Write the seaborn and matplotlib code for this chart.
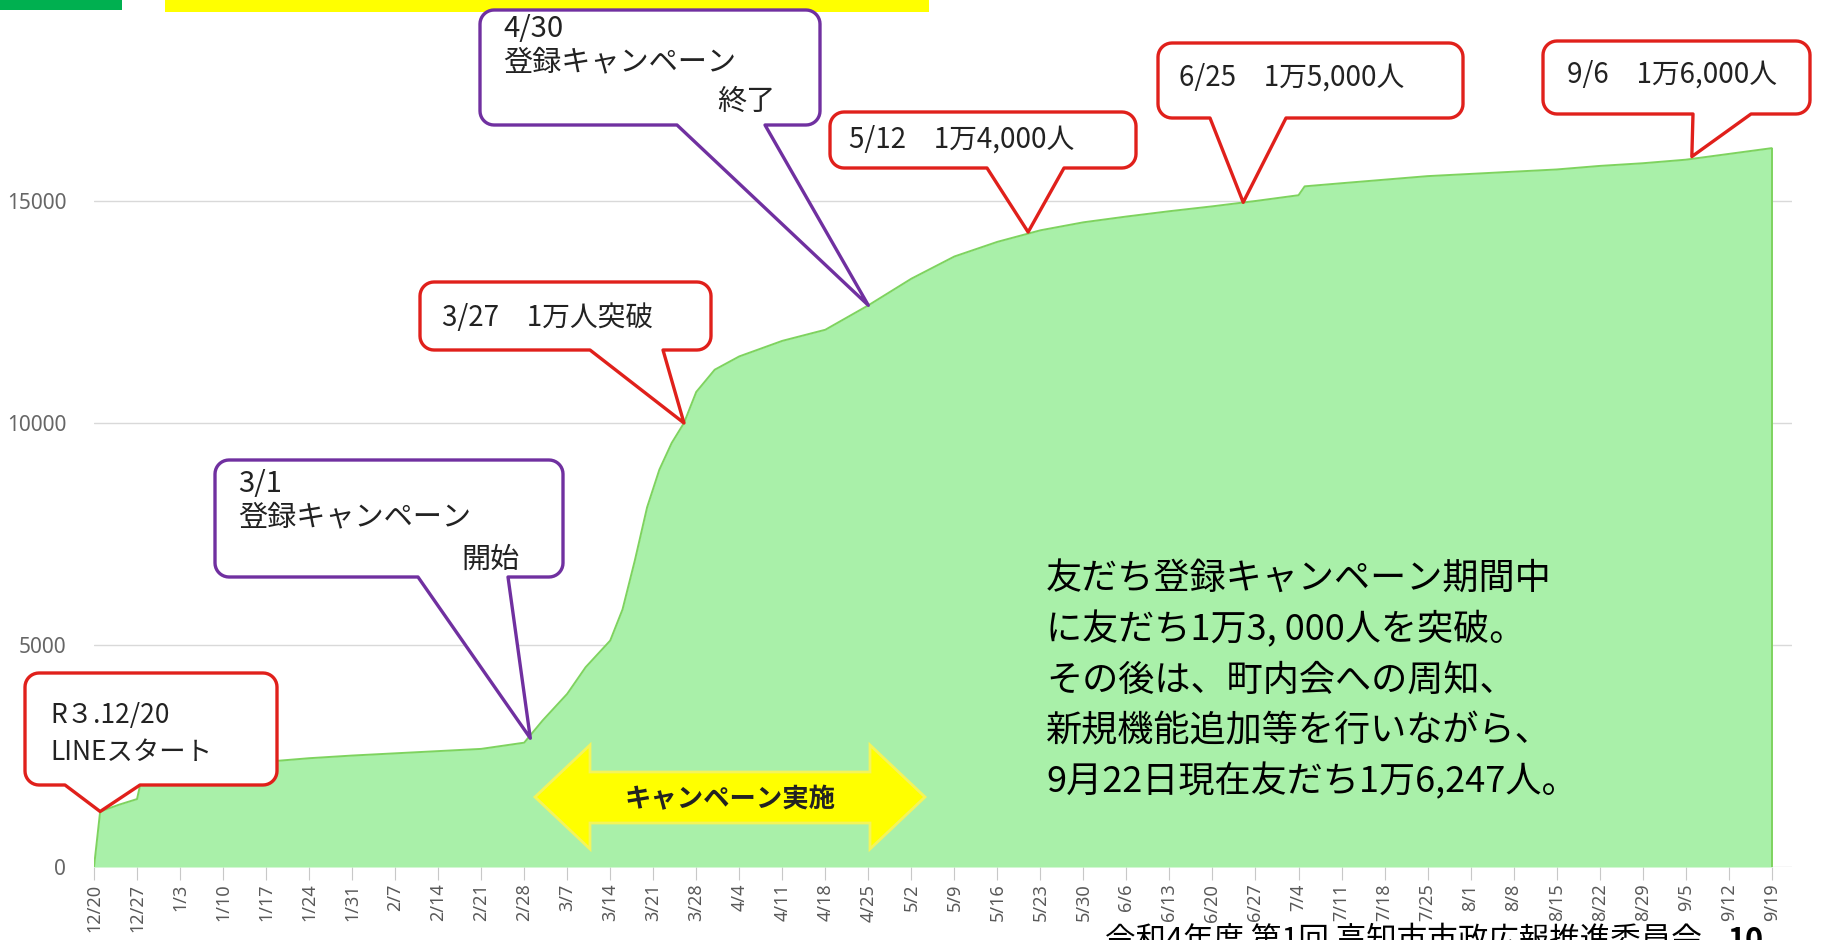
import numpy as np
import pandas as pd
import matplotlib
matplotlib.use("Agg")
import matplotlib.pyplot as plt
import matplotlib.dates as mdates
import seaborn as sns
from matplotlib.patches import Polygon, Rectangle

# === data ===
dates = [
    "2021-12-20", "2021-12-21", "2021-12-24", "2021-12-27", "2021-12-28",
    "2022-01-03", "2022-01-10", "2022-01-17", "2022-01-24", "2022-01-31",
    "2022-02-07", "2022-02-14", "2022-02-21", "2022-02-28", "2022-03-03",
    "2022-03-07", "2022-03-10", "2022-03-14", "2022-03-16", "2022-03-18",
    "2022-03-20", "2022-03-22", "2022-03-24", "2022-03-26", "2022-03-28",
    "2022-03-31", "2022-04-04", "2022-04-11", "2022-04-18", "2022-04-25",
    "2022-05-02", "2022-05-09", "2022-05-16", "2022-05-23", "2022-05-30",
    "2022-06-06", "2022-06-13", "2022-06-20", "2022-06-27", "2022-07-04",
    "2022-07-05", "2022-07-11", "2022-07-18", "2022-07-25", "2022-08-01",
    "2022-08-08", "2022-08-15", "2022-08-22", "2022-08-29", "2022-09-05",
    "2022-09-12", "2022-09-19",
]
friends = [
    0, 1250, 1400, 1530, 2150,
    2250, 2300, 2370, 2450, 2510,
    2560, 2610, 2660, 2800, 3300,
    3900, 4500, 5100, 5800, 6900,
    8100, 8950, 9550, 10000, 10700,
    11200, 11500, 11850, 12100, 12650,
    13250, 13750, 14080, 14340, 14520,
    14650, 14770, 14880, 15000, 15130,
    15330, 15400, 15480, 15560, 15610,
    15660, 15710, 15790, 15850, 15930,
    16060, 16190,
]
y_ticks = [0, 5000, 10000, 15000]

callout_dates = ["2021-12-21", "2022-03-01", "2022-04-25", "2022-03-26",
                 "2022-05-21", "2022-06-25", "2022-09-06"]
callout_values = [1250, 2900, 12650, 10000, 14300, 14970, 16000]
callout_lines = [
    ["R３.12/20", "LINEスタート"],
    ["3/1", "登録キャンペーン", "開始"],
    ["4/30", "登録キャンペーン", "終了"],
    ["3/27　1万人突破"],
    ["5/12　1万4,000人"],
    ["6/25　1万5,000人"],
    ["9/6　1万6,000人"],
]

summary = [
    "友だち登録キャンペーン期間中",
    "に友だち1万3, 000人を突破。",
    "その後は、町内会への周知、",
    "新規機能追加等を行いながら、",
    "9月22日現在友だち1万6,247人。",
]
campaign_label = "キャンペーン実施"
footer = "令和4年度 第1回 高知市市政広報推進委員会"
page_no = "10"

# === style ===
sns.set_theme(style="white")
plt.rcParams["font.family"] = ["Noto Sans CJK JP", "DejaVu Sans"]

FILL = "#a9f0a9"
EDGE = "#7ed35f"
RED = "#e0201b"
PURPLE = "#7030a0"

W, H = 1843, 940
fig = plt.figure(figsize=(W / 100, H / 100), dpi=100)
ax = fig.add_axes([94 / W, 73 / H, (1792 - 94) / W, 867 / H])

df = pd.DataFrame({"date": pd.to_datetime(dates), "friends": friends})
start, end = df["date"].iloc[0], df["date"].iloc[-1]

ax.yaxis.grid(True, color="#d9d9d9", lw=1)
ax.set_axisbelow(True)
ax.fill_between(df["date"], df["friends"], color=FILL, lw=0, zorder=2)
sns.lineplot(data=df, x="date", y="friends", ax=ax, color=EDGE, lw=1.4, zorder=3)
ax.vlines(end, 0, df["friends"].iloc[-1], color=EDGE, lw=1.4, zorder=3)

ax.set_xlim(start, end + pd.Timedelta(days=3.3))
ax.set_ylim(0, 19527)
ax.set_xlabel("")
ax.set_ylabel("")

week_ticks = pd.date_range(start, end, freq="7D")
ax.set_xticks(mdates.date2num(week_ticks.to_pydatetime()))
ax.set_xticklabels([f"{d.month}/{d.day}" for d in week_ticks], rotation=90,
                   fontsize=13, color="#595959", family=["Noto Sans", "DejaVu Sans"])
ax.set_yticks(y_ticks)
ax.set_yticklabels([str(v) for v in y_ticks], fontsize=15, color="#666666",
                   family=["Noto Sans", "DejaVu Sans"])
ax.tick_params(axis="x", bottom=True, length=9, width=0.8, color="#c8c8c8", pad=3)
ax.tick_params(axis="y", length=0, pad=20)
for s in ax.spines.values():
    s.set_visible(False)


# === callouts ===
def px(x, y):
    # reference pixel (y down) -> figure fraction
    return (x / W, 1 - y / H)


def data_to_fig(d, v):
    disp = ax.transData.transform((mdates.date2num(pd.Timestamp(d)), v))
    return tuple(fig.transFigure.inverted().transform(disp))


def bubble(box, base, tip, color, r=14):
    x0, y0, x1, y1 = box
    yt, yb = H - y0, H - y1

    def arc(cx, cy, a0, a1):
        t = np.radians(np.linspace(a0, a1, 10))
        return list(zip(cx + r * np.cos(t), cy + r * np.sin(t)))

    pts = [(base[1], yb)]
    pts += arc(x1 - r, yb + r, 270, 360)
    pts += arc(x1 - r, yt - r, 0, 90)
    pts += arc(x0 + r, yt - r, 90, 180)
    pts += arc(x0 + r, yb + r, 180, 270)
    pts += [(base[0], yb)]
    pts = [(a / W, b / H) for a, b in pts] + [tip]
    fig.add_artist(Polygon(pts, closed=True, transform=fig.transFigure,
                           facecolor="white", edgecolor=color, lw=2.4,
                           joinstyle="round", zorder=10))


layout = [
    dict(box=(25, 673, 277, 785), base=(65, 140), color=RED, size=19,
         pos=[(50, 715, "left"), (50, 752, "left")]),
    dict(box=(215, 460, 563, 577), base=(418, 508), color=PURPLE, size=21,
         pos=[(238, 484, "left"), (238, 517, "left"), (520, 560, "right")]),
    dict(box=(480, 10, 820, 125), base=(677, 765), color=PURPLE, size=21,
         pos=[(503, 29, "left"), (503, 62, "left"), (775, 102, "right")]),
    dict(box=(420, 282, 711, 350), base=(590, 663), color=RED, size=20,
         pos=[(442, 318, "left")]),
    dict(box=(830, 112, 1136, 168), base=(987, 1064), color=RED, size=20,
         pos=[(849, 140, "left")]),
    dict(box=(1158, 43, 1463, 118), base=(1210, 1286), color=RED, size=20,
         pos=[(1179, 78, "left")]),
    dict(box=(1543, 41, 1810, 114), base=(1693, 1751), color=RED, size=20,
         pos=[(1567, 75, "left")]),
]

for d, v, lines, lay in zip(callout_dates, callout_values, callout_lines, layout):
    bubble(lay["box"], lay["base"], data_to_fig(d, v), lay["color"])
    for txt, (x, y, ha) in zip(lines, lay["pos"]):
        fig.text(*px(x, y), txt, ha=ha, va="center", fontsize=lay["size"],
                 color="#222222", zorder=11)

# campaign double arrow
arrow_px = [(535, 797), (590, 745), (590, 772), (870, 772), (870, 745),
            (925, 797), (870, 849), (870, 823), (590, 823), (590, 849)]
fig.add_artist(Polygon([px(x, y) for x, y in arrow_px], closed=True,
                       transform=fig.transFigure, facecolor="#ffff00",
                       edgecolor="#f4f45a", lw=2, zorder=9))
fig.text(*px(730, 800), campaign_label, ha="center", va="center", fontsize=19,
         fontweight="bold", color="#222222", zorder=11)

# summary text
for i, line in enumerate(summary):
    fig.text(*px(1046, 579 + i * 50.7), line, ha="left", va="center",
             fontsize=26, color="black", zorder=11)

# slide decorations
fig.add_artist(Rectangle(px(0, 10), 122 / W, 10 / H, transform=fig.transFigure,
                         facecolor="#00b050", lw=0))
fig.add_artist(Rectangle(px(165, 12), (929 - 165) / W, 12 / H, transform=fig.transFigure,
                         facecolor="#ffff00", lw=0))
fig.text(*px(1105, 925), footer, ha="left", va="top", fontsize=22, color="black")
fig.text(*px(1728, 925), page_no, ha="left", va="top", fontsize=22,
         fontweight="bold", color="black")

fig.savefig("out.png", dpi=100)
